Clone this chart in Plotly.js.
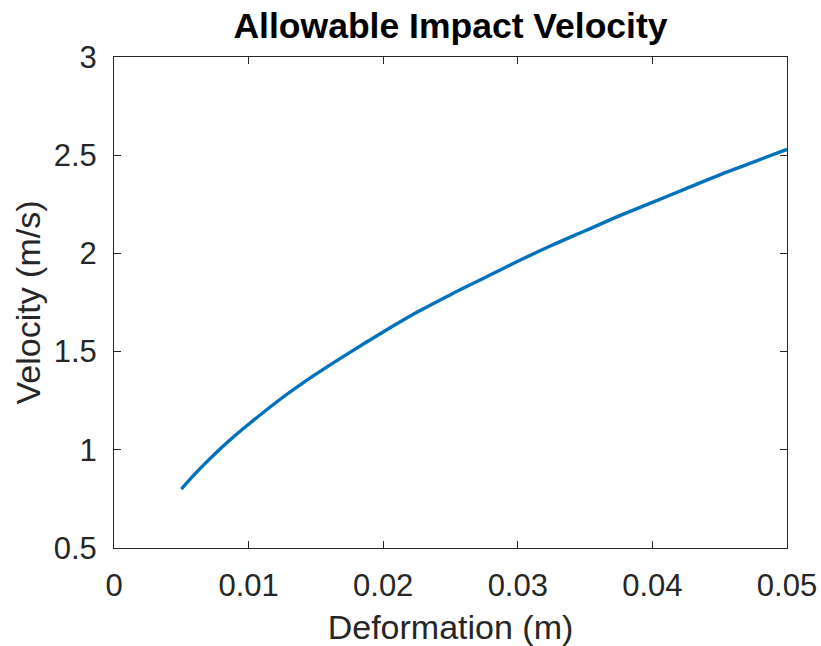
<!DOCTYPE html>
<html>
<head>
<meta charset="utf-8">
<script src="https://cdn.plot.ly/plotly-3.0.1.min.js"></script>
<style>html,body{margin:0;padding:0;background:#fff;}#chart{width:821px;height:646px;}</style>
</head>
<body>
<div id="chart"></div>
<script>
const deformation = [0.005, 0.006, 0.007, 0.008, 0.009, 0.01, 0.0125, 0.015, 0.0175, 0.02, 0.0225, 0.025, 0.0275, 0.03, 0.0325, 0.035, 0.0375, 0.04, 0.0425, 0.045, 0.0475, 0.05];
const velocity = [0.80, 0.876, 0.946, 1.012, 1.073, 1.13, 1.265, 1.385, 1.495, 1.60, 1.70, 1.79, 1.875, 1.96, 2.04, 2.115, 2.19, 2.26, 2.33, 2.40, 2.465, 2.53];
const xTicks = [0, 0.01, 0.02, 0.03, 0.04, 0.05];
const xTickText = ['0', '0.01', '0.02', '0.03', '0.04', '0.05'];
const yTicks = [0.5, 1, 1.5, 2, 2.5, 3];
const yTickText = ['0.5', '1', '1.5', '2', '2.5', '3'];

const font = 'Liberation Sans, Arial, Helvetica, sans-serif';
const ink = '#262626';

const trace = {
  x: deformation, y: velocity, type: 'scatter', mode: 'lines',
  line: {color: '#0072BD', width: 3.4, shape: 'spline', smoothing: 1},
  hoverinfo: 'none'
};

const axisCommon = {
  showline: true, linecolor: ink, linewidth: 1, mirror: 'allticks',
  ticks: 'inside', ticklen: 7, tickcolor: ink, tickwidth: 1,
  showgrid: false, zeroline: false,
  tickfont: {family: font, size: 31, color: ink}
};

const layout = {
  width: 821, height: 646,
  margin: {l: 114, r: 34, t: 57, b: 98},
  paper_bgcolor: '#fff', plot_bgcolor: '#fff',
  showlegend: false,
  title: {text: '<b>Allowable Impact Velocity</b>', font: {family: font, size: 35.5, color: '#000'},
          x: 0.5, xanchor: 'center', y: 0.96, yanchor: 'middle', xref: 'paper', yref: 'container'},
  xaxis: Object.assign({}, axisCommon, {
    range: [0, 0.05], tickvals: xTicks, ticktext: xTickText, ticklabelstandoff: 10,
    title: {text: 'Deformation (m)', font: {family: font, size: 34, color: ink}, standoff: 14}
  }),
  yaxis: Object.assign({}, axisCommon, {
    range: [0.5, 3], tickvals: yTicks, ticktext: yTickText, ticklabelstandoff: 10,
    title: {text: 'Velocity (m/s)', font: {family: font, size: 34, color: ink}, standoff: 2}
  })
};

Plotly.newPlot('chart', [trace], layout, {staticPlot: true, displayModeBar: false});
</script>
</body>
</html>
